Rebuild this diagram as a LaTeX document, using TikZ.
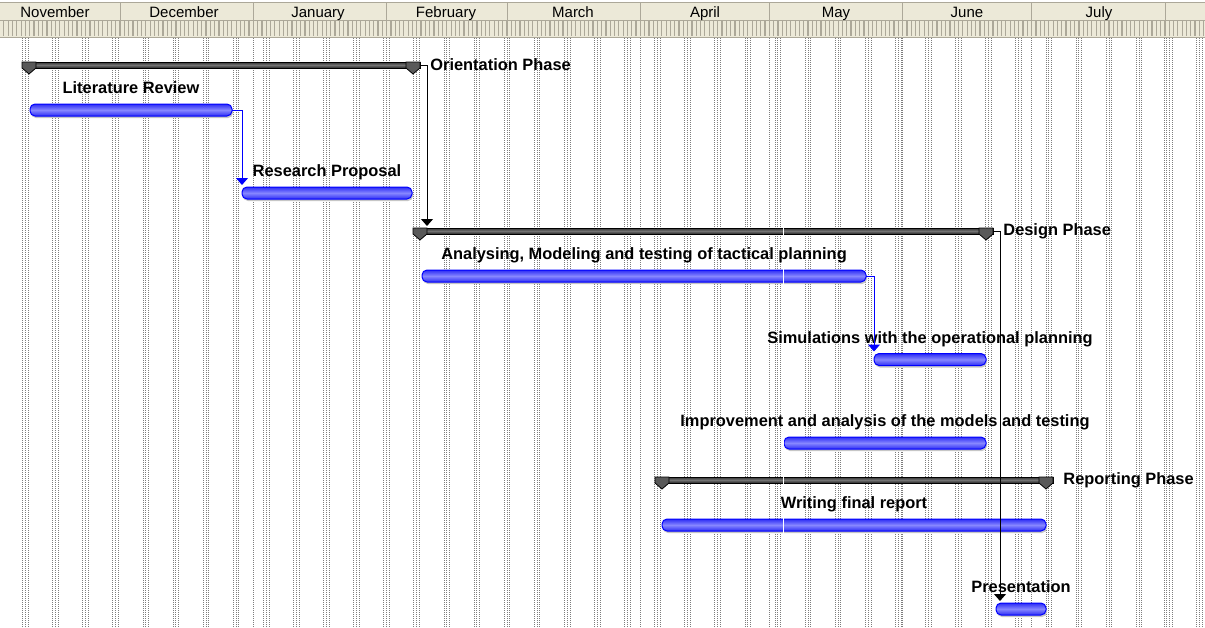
\documentclass[tikz,border=0pt]{standalone}
\usepackage{fontspec}
\setmainfont{Liberation Sans}
\usepackage{tikz}
\usetikzlibrary{arrows.meta,positioning,shadows}
\usepackage{xcolor}
\definecolor{headbg}{RGB}{236,233,216}
\definecolor{headline}{RGB}{172,168,153}
\definecolor{taskblue}{RGB}{45,45,245}
\definecolor{tasklight}{RGB}{135,135,255}
\definecolor{weekdot}{RGB}{125,125,125}
\tikzstyle{task} = [rectangle, rounded corners=2.5pt, minimum height=6pt,%
	inner sep=0pt, outer sep=0pt, draw=blue, line width=0.5pt,%
	top color=taskblue, bottom color=taskblue, middle color=tasklight,%
	drop shadow={shadow xshift=0.5pt, shadow yshift=-1pt, fill=gray!45, opacity=1}]
\tikzstyle{phase} = [rectangle, minimum height=3pt, inner sep=0pt, outer sep=0pt,%
	draw=black, line width=0.4pt,%
	top color=black!80, bottom color=black!85, middle color=black!55]
\tikzstyle{marker} = [fill=black!65, draw=black, line width=0.4pt]
\tikzstyle{tasklabel} = [font=\fontsize{8.2}{9}\selectfont\bfseries, inner sep=0pt, text depth=0pt]
\tikzstyle{phaselabel} = [font=\fontsize{8.2}{9}\selectfont\bfseries, inner sep=0pt]

\begin{document}
\begin{tikzpicture}[x=0.5pt,y=-0.5pt,node distance=5pt,>={Triangle[width=6pt,length=3.5pt]}]
    \tikzstyle{month}=[font=\fontsize{7.5}{9}\selectfont, inner sep=0pt, anchor=base]
    \tikzstyle{weekend}=[weekdot, line width=0.5pt, dash pattern=on 0.5pt off 0.5pt]
    \tikzstyle{tasklink}=[blue, line width=0.5pt, shorten >=1pt]
    \tikzstyle{phaselink}=[black, line width=0.5pt, shorten >=1pt]
    \useasboundingbox (0,0) rectangle (1205,627);
    % time scale
    \fill[headbg] (0,2) rectangle (1205,37);
    \foreach \n in {-27,...,252}
        \draw[headline, line width=0.6pt] ({120+4.3*\n},21) -- ({120+4.3*\n},36);
    \draw[headline] (0,2) -- (1205,2) (0,20) -- (1205,20) (0,37) -- (1205,37);
    \foreach \x in {120,253.3,386.6,507,640.3,769.3,902.6,1031.6,1164.9}
        \draw[headline] (\x,2) -- (\x,20);
    \foreach \m/\x in {November/55,December/184,January/318,February/446,March/573,%
        April/705,May/836,June/967,July/1099}
        \node[month] (\m) at (\x,17) {\m};
    % weekends
    \foreach \k in {0,...,39}
        \foreach \o in {1.5,4.3,7.1}
            \draw[weekend] ({21.1+30.1*\k+\o},38) -- ++(0,589);
    \foreach \x in {253.3,386.6,507,640.3,769.3,902.6,1031.6,1164.9}
        \draw[weekend] (\x,38) -- (\x,627);
    % bars
    \node[phase, minimum width=199pt] (orient) at (221,65) {};
    \node[task, minimum width=101pt] (litrev) at (131,110) {};
    \node[task, minimum width=85pt] (resprop) at (327,193) {};
    \node[phase, minimum width=290pt] (design) at (703,231) {};
    \node[task, minimum width=222pt] (analys) at (644,276) {};
    \node[task, minimum width=56pt] (simul) at (930,359.5) {};
    \node[task, minimum width=101pt] (improv) at (885,443) {};
    \node[phase, minimum width=199pt] (report) at (854,480) {};
    \node[task, minimum width=192pt] (writing) at (854,525) {};
    \node[task, minimum width=25pt] (present) at (1021,609) {};
    \foreach \s in {orient,design,report} {
        \filldraw[marker] (\s.north west) -- ++(14,0) -- ++(0,6) -- ++(-7,6) -- ++(-7,-6) -- cycle;
        \filldraw[marker] (\s.north east) -- ++(-14,0) -- ++(0,6) -- ++(7,6) -- ++(7,-6) -- cycle;
    }
    \draw[white, line width=0.5pt] (783,38) -- (783,627);
    % labels
    \node[phaselabel, right=5pt of orient] (orienttxt) {Orientation Phase};
    \node[phaselabel, right=5pt of design] (designtxt) {Design Phase};
    \node[phaselabel, right=5pt of report] (reporttxt) {Reporting Phase};
    \node[tasklabel, above=5pt of litrev] (litrevtxt) {Literature Review};
    \node[tasklabel, above=5pt of resprop] (resproptxt) {Research Proposal};
    \node[tasklabel, above=5pt of analys] (analystxt) {Analysing, Modeling and testing of tactical planning};
    \node[tasklabel, above=5pt of simul] (simultxt) {Simulations with the operational planning};
    \node[tasklabel, above=5pt of improv] (improvtxt) {Improvement and analysis of the models and testing};
    \node[tasklabel, above=5pt of writing] (writingtxt) {Writing final report};
    \node[tasklabel, above=5pt of present] (presenttxt) {Presentation};
    % links
    \draw[tasklink,->] (litrev.east) -| (resprop.north west);
    \draw[tasklink,->] (analys.east) -| (simul.north west);
    \draw[phaselink,->] (orient.east) -- ++(7,0) coordinate (o1) -- (o1 |- design.north);
    \draw[phaselink,->] (design.east) -- ++(7,0) coordinate (d1) -- (d1 |- present.north);
\end{tikzpicture}
\end{document}
